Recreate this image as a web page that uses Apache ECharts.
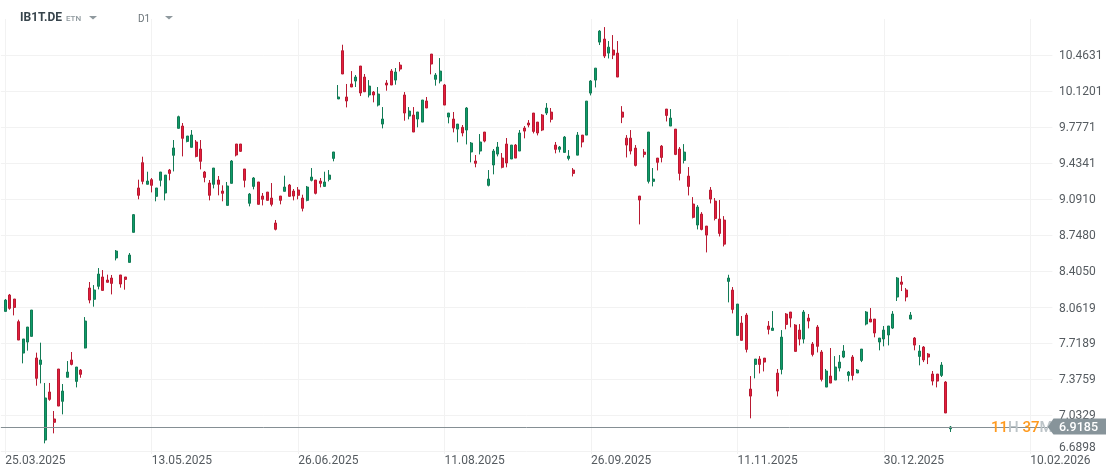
<!DOCTYPE html>
<html>
<head>
<meta charset="utf-8">
<title>IB1T.DE</title>
<script src="https://cdn.jsdelivr.net/npm/echarts@6/dist/echarts.min.js"></script>
<style>
html, body {margin: 0; padding: 0; background: #fff;}
#chart {width: 1119px; height: 476px;}
</style>
</head>
<body>
<div id="chart"></div>
<script>
var opens = [
8.020,8.176,8.138,7.922,7.623,7.728,7.782,7.576,7.515,6.794,
7.252,6.995,7.471,7.163,7.392,7.557,7.353,7.461,7.671,8.243,
8.135,8.259,8.348,8.319,8.338,8.529,8.367,8.348,8.487,8.773,
9.196,9.437,9.231,9.275,9.116,9.269,9.148,9.367,9.507,9.764,
9.786,9.640,9.583,9.634,9.567,9.348,9.243,9.231,9.272,9.167,
9.030,9.240,9.615,9.615,9.377,9.050,9.211,9.253,9.119,9.157,
9.100,8.862,9.119,9.164,9.224,9.167,9.177,9.100,9.078,9.269,
9.272,9.262,9.211,9.278,9.478,10.044,10.504,10.063,10.187,10.215,
10.358,10.253,10.082,10.110,9.986,9.805,10.196,10.310,10.224,10.367,
10.082,9.881,9.891,9.853,9.824,10.025,10.472,10.231,10.215,10.177,
9.872,9.853,9.757,9.774,9.748,9.539,9.453,9.548,9.729,9.221,
9.415,9.519,9.481,9.615,9.472,9.605,9.548,9.767,9.815,9.910,
9.824,9.891,9.910,9.919,9.605,9.564,9.535,9.478,9.367,9.509,
9.700,9.700,10.100,10.224,10.586,10.615,10.481,10.510,10.481,9.919,
9.671,9.671,9.576,9.119,9.538,9.259,9.259,9.481,9.595,9.948,
9.786,9.757,9.567,9.459,9.309,9.043,8.843,8.947,8.833,9.176,
9.071,8.900,8.890,8.306,8.223,7.791,7.909,7.985,7.280,7.515,
7.566,7.575,7.880,7.839,7.432,7.467,7.995,8.014,7.890,7.842,
7.756,7.956,7.709,7.871,7.633,7.299,7.404,7.366,7.480,7.585,
7.410,7.585,7.433,7.553,7.900,7.947,7.947,7.728,7.757,7.795,
7.861,8.157,8.300,8.224,7.947,7.766,7.591,7.680,7.614,7.423,
7.423,7.410,7.347,6.902
];
var closes = [
8.128,8.049,8.058,7.747,7.757,7.871,8.033,7.382,7.557,7.195,
7.182,6.963,7.118,7.261,7.442,7.515,7.490,7.420,7.928,8.128,
8.224,8.376,8.220,8.297,8.287,8.595,8.281,8.325,8.557,8.942,
9.126,9.259,9.262,9.221,9.196,9.348,9.319,9.335,9.577,9.875,
9.669,9.691,9.701,9.497,9.450,9.297,9.126,9.386,9.231,9.145,
9.215,9.453,9.510,9.545,9.269,9.138,9.291,9.040,9.088,9.078,
9.040,8.802,9.078,9.205,9.116,9.119,9.126,9.002,9.205,9.300,
9.145,9.240,9.253,9.319,9.539,10.063,10.282,10.025,10.158,10.253,
10.101,10.113,10.167,10.082,10.091,9.853,10.177,10.177,10.301,10.329,
9.910,9.929,9.729,9.920,10.034,9.958,10.377,10.272,10.310,9.986,
9.910,9.767,9.805,9.720,9.958,9.624,9.431,9.634,9.643,9.281,
9.548,9.586,9.393,9.434,9.605,9.481,9.720,9.738,9.796,9.735,
9.720,9.748,9.958,9.850,9.564,9.586,9.681,9.500,9.335,9.700,
9.634,10.024,10.215,10.338,10.691,10.453,10.538,10.462,10.253,9.871,
9.605,9.548,9.411,9.081,9.516,9.729,9.281,9.440,9.487,9.887,
9.862,9.516,9.335,9.538,9.211,8.916,9.014,8.801,8.747,9.090,
8.906,8.763,8.661,8.338,8.039,8.090,7.744,7.658,7.213,7.566,
7.515,7.537,7.849,7.861,7.261,7.775,7.896,7.956,7.639,7.756,
8.014,7.928,7.610,7.687,7.372,7.452,7.337,7.490,7.537,7.642,
7.442,7.410,7.461,7.661,8.014,7.919,7.814,7.766,7.842,7.881,
7.995,8.338,8.278,8.157,7.985,7.699,7.642,7.557,7.585,7.356,
7.356,7.509,7.052,6.918
];
var lows = [
8.020,8.036,7.982,7.747,7.525,7.646,7.782,7.312,7.334,6.763,
7.169,6.858,7.118,7.039,7.392,7.506,7.296,7.388,7.668,8.097,
8.065,8.230,8.220,8.297,8.182,8.506,8.246,8.227,8.487,8.773,
9.088,9.231,9.231,9.154,9.069,9.211,9.078,9.269,9.354,9.764,
9.497,9.631,9.583,9.488,9.373,9.250,9.078,9.192,9.126,9.069,
9.030,9.240,9.497,9.539,9.202,9.021,9.183,9.040,9.030,9.078,
9.021,8.792,9.040,9.164,9.116,9.078,9.088,8.973,9.069,9.259,
9.135,9.202,9.211,9.259,9.450,10.044,10.282,9.964,10.158,10.158,
10.072,10.110,10.059,10.012,9.973,9.764,10.123,10.177,10.180,10.307,
9.837,9.850,9.729,9.774,9.824,9.958,10.279,10.171,10.193,9.986,
9.812,9.726,9.631,9.688,9.611,9.440,9.393,9.516,9.631,9.211,
9.326,9.497,9.383,9.393,9.472,9.481,9.548,9.669,9.774,9.716,
9.697,9.738,9.891,9.821,9.526,9.535,9.535,9.459,9.306,9.509,
9.583,9.700,10.078,10.154,10.558,10.434,10.430,10.424,10.253,9.814,
9.487,9.516,9.401,8.849,9.487,9.239,9.211,9.363,9.440,9.830,
9.786,9.509,9.268,9.430,9.125,8.906,8.801,8.792,8.582,9.049,
8.887,8.734,8.639,8.106,8.001,7.791,7.744,7.629,7.001,7.382,
7.429,7.448,7.801,7.839,7.210,7.420,7.849,7.868,7.639,7.696,
7.715,7.858,7.591,7.629,7.353,7.299,7.337,7.366,7.448,7.575,
7.353,7.363,7.433,7.537,7.887,7.919,7.773,7.649,7.687,7.696,
7.852,8.119,8.214,8.116,7.944,7.649,7.506,7.537,7.518,7.315,
7.296,7.395,7.052,6.871
];
var highs = [
8.138,8.186,8.138,7.941,7.757,7.871,8.033,7.627,7.722,7.338,
7.338,7.071,7.471,7.328,7.547,7.633,7.490,7.471,7.966,8.300,
8.271,8.433,8.414,8.370,8.367,8.605,8.367,8.348,8.576,8.948,
9.275,9.494,9.351,9.291,9.196,9.348,9.319,9.377,9.653,9.885,
9.815,9.691,9.748,9.653,9.653,9.358,9.272,9.386,9.310,9.221,
9.253,9.462,9.615,9.615,9.377,9.148,9.300,9.253,9.148,9.157,
9.243,8.891,9.119,9.313,9.234,9.186,9.205,9.132,9.215,9.386,
9.272,9.291,9.351,9.367,9.539,10.177,10.561,10.187,10.310,10.272,
10.358,10.282,10.224,10.120,10.158,9.967,10.224,10.329,10.339,10.396,
10.110,9.967,9.967,9.920,10.034,10.063,10.472,10.291,10.434,10.187,
9.910,9.920,9.805,9.796,9.967,9.634,9.510,9.710,9.729,9.367,
9.567,9.634,9.529,9.672,9.605,9.615,9.748,9.786,9.843,9.910,
9.824,9.900,10.005,9.958,9.634,9.596,9.691,9.557,9.386,9.729,
9.700,10.024,10.224,10.338,10.700,10.729,10.596,10.653,10.596,9.976,
9.700,9.748,9.605,9.119,9.567,9.729,9.386,9.481,9.605,9.948,
9.948,9.757,9.586,9.614,9.395,9.109,9.033,8.966,8.833,9.205,
9.100,9.081,8.928,8.369,8.252,8.090,7.976,8.004,7.404,7.566,
7.594,7.575,7.928,8.023,7.471,7.842,8.004,8.014,7.899,7.899,
8.033,7.995,7.728,7.890,7.652,7.471,7.671,7.594,7.604,7.699,
7.452,7.604,7.471,7.661,8.023,8.052,7.947,7.766,7.881,7.881,
8.023,8.347,8.357,8.243,8.014,7.776,7.699,7.690,7.623,7.452,
7.423,7.537,7.356,6.928
];
var dateLabels = ['25.03.2025', '13.05.2025', '26.06.2025', '11.08.2025', '26.09.2025', '11.11.2025', '30.12.2025', '10.02.2026'];
var priceTicks = [6.6898, 7.0329, 7.3759, 7.7189, 8.0619, 8.4050, 8.7480, 9.0910, 9.4341, 9.7771, 10.1201, 10.4631];
var lastPrice = 6.9185;

var barsPerLabel = 33;
var slotCount = 238;
var barStep = 4.437;

// one empty slot in front so the first bar sits on the first date line
var categories = [];
for (var i = 0; i < slotCount; i++) {
    var k = (i - 1) / barsPerLabel;
    categories.push(k >= 0 && k < dateLabels.length && k === Math.floor(k) ? dateLabels[k] : '');
}
var candles = [['-', '-', '-', '-']];
for (var j = 0; j < opens.length; j++) {
    candles.push([opens[j], closes[j], lows[j], highs[j]]);
}

function hasDate(index, value) {
    return value !== '';
}

var gridTop = 19;
var gridHeight = 432;
var chart = echarts.init(document.getElementById('chart'));
var fontName = 'Roboto';

chart.setOption({
    animation: false,
    backgroundColor: '#fff',
    textStyle: {fontFamily: fontName},
    grid: {left: 0.86, top: gridTop, width: barStep * (slotCount - 1), height: gridHeight},
    xAxis: {
        type: 'category',
        data: categories,
        boundaryGap: false,
        axisLine: {show: false},
        axisTick: {show: true, interval: hasDate, length: 3, lineStyle: {color: '#f2f2f2'}},
        splitLine: {show: true, interval: hasDate, lineStyle: {color: '#f2f2f2', width: 1}},
        axisLabel: {
            interval: hasDate,
            align: 'left',
            margin: 4,
            color: '#555b60',
            fontSize: 12,
            fontFamily: fontName,
            hideOverlap: false
        }
    },
    yAxis: {
        type: 'value',
        position: 'right',
        min: 6.6898,
        max: 10.8061,
        axisLine: {show: false},
        axisTick: {show: false, customValues: priceTicks},
        splitLine: {show: true, lineStyle: {color: '#f2f2f2', width: 1}},
        axisLabel: {
            customValues: priceTicks,
            margin: 6.5,
            color: '#555b60',
            fontSize: 12,
            fontFamily: fontName,
            formatter: function(v) {
                var s = v.toFixed(4);
                return v === priceTicks[0] ? '{low|' + s + '}' : '{mid|' + s + '}';
            },
            rich: {
                low: {padding: [0, 0, 6, 0], color: '#555b60', fontSize: 12, fontFamily: fontName},
                mid: {padding: [3, 0, 0, 0], color: '#555b60', fontSize: 12, fontFamily: fontName}
            }
        }
    },
    series: [{
        type: 'candlestick',
        data: candles,
        barWidth: 2.5,
        itemStyle: {
            color: '#0e9c68',
            color0: '#e61e3c',
            borderColor: '#127a55',
            borderColor0: '#b81a32',
            borderWidth: 1
        },
        markLine: {
            silent: true,
            symbol: 'none',
            label: {show: false},
            lineStyle: {color: '#858f94', width: 1, type: 'solid'},
            data: [{yAxis: lastPrice}]
        }
    }]
});

var tagY = chart.convertToPixel({yAxisIndex: 0}, lastPrice);

chart.setOption({
    graphic: [
        {type: 'text', left: 20, top: 12, style: {text: 'IB1T.DE', font: 'bold 12px Roboto', fill: '#37444c'}},
        {type: 'text', left: 66, top: 15, style: {text: 'ETN', font: '500 8px Roboto', fill: '#8f999e'}},
        {type: 'polygon', shape: {points: [[89, 16], [97, 16], [93, 19.5]]}, style: {fill: '#8f999e'}},
        {type: 'text', left: 138, top: 14, style: {text: 'D1', font: '10px Roboto', fill: '#6b7479'}},
        {type: 'polygon', shape: {points: [[165, 16], [173, 16], [169, 19.5]]}, style: {fill: '#8f999e'}},
        {
            type: 'text',
            z: 20,
            left: 991,
            top: tagY - 6,
            style: {
                rich: {
                    num: {font: '500 15px Roboto', fill: '#ff9a1e'},
                    unit: {font: '500 15px Roboto', fill: '#bcc4c8'}
                },
                text: '{num|11}{unit|H }{num|37}{unit|M}'
            }
        },
        {
            type: 'polygon',
            z: 30,
            shape: {points: [[1047.7, tagY], [1053.5, tagY - 8.6], [1106, tagY - 8.6], [1106, tagY + 7.4], [1053.5, tagY + 7.4]]},
            style: {fill: '#87949a'}
        },
        {
            type: 'text',
            z: 31,
            left: 1059,
            top: tagY - 6,
            style: {text: lastPrice.toFixed(4), font: '500 12.5px Roboto', fill: '#fff'}
        }
    ]
});
</script>
</body>
</html>
